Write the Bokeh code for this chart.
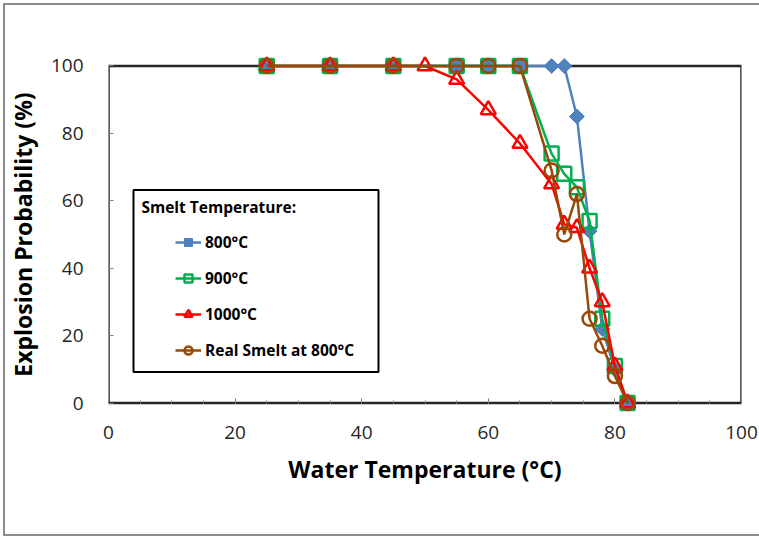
from bokeh.plotting import figure
from bokeh.models import (Range1d, SingleIntervalTicker, Legend, LegendItem,
                          BoxAnnotation, Label, LinearAxis, InlineStyleSheet)
from bokeh.embed import file_html
from bokeh.resources import INLINE

# Water temperature (°C) and explosion probability (%) per smelt temperature
water_800 = [25, 35, 45, 55, 60, 65, 70, 72, 74, 76, 78, 80, 82]
prob_800 = [100, 100, 100, 100, 100, 100, 100, 100, 85, 51, 22, 10, 0]

water_900 = [25, 35, 45, 55, 60, 65, 70, 72, 74, 76, 78, 80, 82]
prob_900 = [100, 100, 100, 100, 100, 100, 74, 68, 64, 54, 25, 11, 0]

water_1000 = [25, 35, 45, 50, 55, 60, 65, 70, 72, 74, 76, 78, 80, 82]
prob_1000 = [100, 100, 100, 100, 96, 87, 77, 65, 53, 52, 40, 30, 11, 0]

water_real = [25, 35, 45, 55, 60, 65, 70, 72, 74, 76, 78, 80, 82]
prob_real = [100, 100, 100, 100, 100, 100, 69, 50, 62, 25, 17, 8, 0]

series_labels = ["800°C", "900°C", "1000°C", "Real Smelt at 800°C"]
legend_title = "Smelt Temperature:"
x_title = "Water Temperature (°C)"
y_title = "Explosion Probability (%)"

FONT = "Open Sans"
TICK_COLOR = "#7f7f7f"

p = figure(width=759, height=537,
           x_range=Range1d(0, 100), y_range=Range1d(-4, 104),
           output_backend="svg", toolbar_location=None,
           min_border_left=108, min_border_right=18,
           min_border_top=52, min_border_bottom=121,
           background_fill_color="white", border_fill_color="white",
           outline_line_color=None)
p.grid.visible = False

# thin grey rule along the top, left and bottom edges of the chart
p.stylesheets = [InlineStyleSheet(css=(
    ":host::after { content: ''; position: absolute; left: 3px; top: 3px;"
    " width: 754px; height: 529px; border: 2px solid #8c8c8c;"
    " border-right: none; pointer-events: none; z-index: 10; }"))]

# plot-area frame spanning 0..100 on both axes
frame = BoxAnnotation(left=0, right=100, bottom=0, top=100,
                      fill_alpha=0, line_color="#262626", line_alpha=1,
                      line_width=2.5, level="underlay")
p.add_layout(frame)

# bottom axis: carries the tick labels and the title only
xa = p.xaxis[0]
xa.ticker = SingleIntervalTicker(interval=20, num_minor_ticks=4)
ya = p.yaxis[0]
ya.ticker = SingleIntervalTicker(interval=20, num_minor_ticks=0)
for ax in (xa, ya):
    ax.axis_line_color = None
    ax.major_tick_in = 5
    ax.major_tick_out = 0
    ax.minor_tick_in = 3
    ax.minor_tick_out = 0
    ax.major_tick_line_color = TICK_COLOR
    ax.minor_tick_line_color = None
    ax.major_label_text_font = FONT
    ax.major_label_text_font_size = "19px"
    ax.major_label_text_color = "#262626"
    ax.axis_label_text_font = FONT
    ax.axis_label_text_font_style = "bold"
    ax.axis_label_text_font_size = "23px"
    ax.axis_label_text_color = "black"
xa.major_tick_line_color = None
xa.axis_label = x_title
ya.axis_label = y_title
xa.major_label_standoff = 9
xa.axis_label_standoff = 11
ya.major_label_standoff = 25
ya.axis_label_standoff = 9

# tick marks for the x axis, pinned to y = 0
xticks = LinearAxis(ticker=SingleIntervalTicker(interval=20, num_minor_ticks=4),
                    fixed_location=0, axis_line_color=None,
                    major_tick_in=5, major_tick_out=0,
                    minor_tick_in=3, minor_tick_out=0,
                    major_tick_line_color=TICK_COLOR,
                    minor_tick_line_color=TICK_COLOR,
                    major_label_text_color=None)
p.add_layout(xticks, "below")

# series, drawn line then markers, in order
specs = [
    (water_800, prob_800, "#4F81BD",
     dict(marker="square", angle=0.785, size=10.5, fill_color="#4F81BD", line_width=1)),
    (water_900, prob_900, "#00B050",
     dict(marker="square", size=14, fill_color=None, line_width=2.5)),
    (water_1000, prob_1000, "#FF0000",
     dict(marker="triangle", size=15, fill_color=None, line_width=2.5)),
    (water_real, prob_real, "#984807",
     dict(marker="circle", size=14, fill_color=None, line_width=2.5)),
]

items = []
for (xs, ys, color, mk), label in zip(specs, series_labels):
    lr = p.line(xs, ys, line_color=color, line_width=2.5)
    sr = p.scatter(xs, ys, line_color=color, **mk)
    items.append(LegendItem(label=label, renderers=[lr, sr]))

# legend box with its heading
legend_box = BoxAnnotation(left=3.95, right=42.65, bottom=9.2, top=63.2,
                           fill_color="white", fill_alpha=1,
                           line_color="black", line_alpha=1, line_width=2)
p.add_layout(legend_box)
p.add_layout(Label(x=5.2, y=58.2, text=legend_title,
                   text_font=FONT, text_font_style="bold",
                   text_font_size="15.5px", text_color="black",
                   text_baseline="middle"))

legend = Legend(items=items, location=(67, 55),
                padding=0, margin=0, spacing=14,
                glyph_width=26, glyph_height=20, label_height=20,
                label_standoff=4,
                label_text_font=FONT, label_text_font_style="bold",
                label_text_font_size="15.5px", label_text_color="black",
                border_line_color=None, background_fill_alpha=0)
p.add_layout(legend, "center")

open("out.html", "w").write(file_html(p, INLINE))
